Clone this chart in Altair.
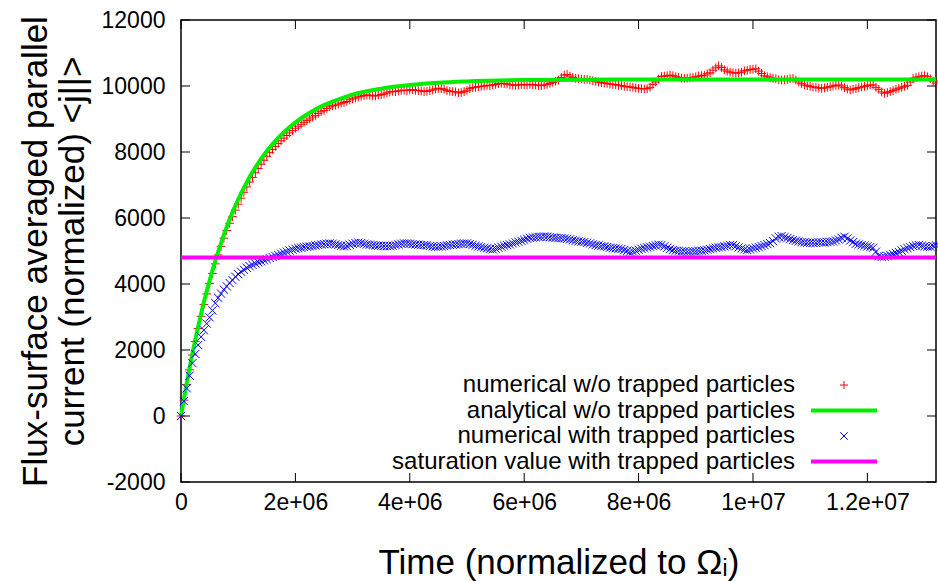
import altair as alt
import pandas as pd

# ---------------- data ----------------
series_names = [
    "numerical w/o trapped particles",
    "analytical w/o trapped particles",
    "numerical with trapped particles",
    "saturation value with trapped particles",
]
series_colors = ["#ff0000", "#00ee00", "#0000ff", "#ff00ff"]

# sample times in units of 1e6 (normalized to Omega_i): whole tenths ...
num_time_M = [
    0.0, 0.1, 0.2, 0.3, 0.4, 0.5, 0.6, 0.7, 0.8, 0.9,
    1.0, 1.1, 1.2, 1.3, 1.4, 1.5, 1.6, 1.7, 1.8, 1.9,
    2.0, 2.1, 2.2, 2.3, 2.4, 2.5, 2.6, 2.7, 2.8, 2.9,
    3.0, 3.1, 3.2, 3.3, 3.4, 3.5, 3.6, 3.7, 3.8, 3.9,
    4.0, 4.1, 4.2, 4.3, 4.4, 4.5, 4.6, 4.7, 4.8, 4.9,
    5.0, 5.1, 5.2, 5.3, 5.4, 5.5, 5.6, 5.7, 5.8, 5.9,
    6.0, 6.1, 6.2, 6.3, 6.4, 6.5, 6.6, 6.7, 6.8, 6.9,
    7.0, 7.1, 7.2, 7.3, 7.4, 7.5, 7.6, 7.7, 7.8, 7.9,
    8.0, 8.1, 8.2, 8.3, 8.4, 8.5, 8.6, 8.7, 8.8, 8.9,
    9.0, 9.1, 9.2, 9.3, 9.4, 9.5, 9.6, 9.7, 9.8, 9.9,
    10.0, 10.1, 10.2, 10.3, 10.4, 10.5, 10.6, 10.7, 10.8, 10.9,
    11.0, 11.1, 11.2, 11.3, 11.4, 11.5, 11.6, 11.7, 11.8, 11.9,
    12.0, 12.1, 12.2, 12.3, 12.4, 12.5, 12.6, 12.7, 12.8, 12.9,
    13.0, 13.1, 13.2,
]
# ... and the samples in between
num_time_half_M = [
    0.05, 0.15, 0.25, 0.35, 0.45, 0.55, 0.65, 0.75, 0.85, 0.95,
    1.05, 1.15, 1.25, 1.35, 1.45, 1.55, 1.65, 1.75, 1.85, 1.95,
    2.05, 2.15, 2.25, 2.35, 2.45, 2.55, 2.65, 2.75, 2.85, 2.95,
    3.05, 3.15, 3.25, 3.35, 3.45, 3.55, 3.65, 3.75, 3.85, 3.95,
    4.05, 4.15, 4.25, 4.35, 4.45, 4.55, 4.65, 4.75, 4.85, 4.95,
    5.05, 5.15, 5.25, 5.35, 5.45, 5.55, 5.65, 5.75, 5.85, 5.95,
    6.05, 6.15, 6.25, 6.35, 6.45, 6.55, 6.65, 6.75, 6.85, 6.95,
    7.05, 7.15, 7.25, 7.35, 7.45, 7.55, 7.65, 7.75, 7.85, 7.95,
    8.05, 8.15, 8.25, 8.35, 8.45, 8.55, 8.65, 8.75, 8.85, 8.95,
    9.05, 9.15, 9.25, 9.35, 9.45, 9.55, 9.65, 9.75, 9.85, 9.95,
    10.05, 10.15, 10.25, 10.35, 10.45, 10.55, 10.65, 10.75, 10.85, 10.95,
    11.05, 11.15, 11.25, 11.35, 11.45, 11.55, 11.65, 11.75, 11.85, 11.95,
    12.05, 12.15, 12.25, 12.35, 12.45, 12.55, 12.65, 12.75, 12.85, 12.95,
    13.05, 13.15,
]

numerical_no_trap = [
    0, 950, 1850, 2650, 3380, 4020, 4610, 5140, 5620, 6040,
    6420, 6780, 7090, 7370, 7630, 7870, 8080, 8260, 8420, 8580,
    8720, 8840, 8950, 9060, 9170, 9260, 9370, 9420, 9480, 9530,
    9610, 9670, 9710, 9720, 9700, 9740, 9790, 9840, 9850, 9870,
    9880, 9870, 9850, 9840, 9880, 9930, 9900, 9840, 9820, 9800,
    9870, 9950, 9980, 10000, 10010, 10050, 10080, 10060, 10030, 10030,
    10040, 10050, 10030, 10010, 10050, 10110, 10180, 10330, 10300, 10230,
    10210, 10200, 10160, 10120, 10090, 10060, 10040, 10010, 9980, 9960,
    9930, 9910, 9960, 10120, 10290, 10310, 10310, 10260, 10230, 10250,
    10280, 10310, 10370, 10480, 10610, 10490, 10420, 10390, 10420, 10480,
    10510, 10450, 10310, 10250, 10220, 10180, 10200, 10230, 10120, 10030,
    9990, 9960, 9930, 9960, 10000, 10030, 9950, 9880, 9920, 9970,
    10010, 10030, 9900, 9780, 9830, 9900, 9960, 10020, 10230, 10280,
    10310, 10220, 10090,
]
numerical_no_trap_half = [
    480, 1400, 2260, 3020, 3700, 4320, 4880, 5390, 5840, 6240,
    6600, 6940, 7230, 7500, 7750, 7980, 8170, 8340, 8500, 8650,
    8780, 8900, 9000, 9110, 9220, 9320, 9400, 9450, 9500, 9580,
    9640, 9690, 9730, 9700, 9720, 9760, 9820, 9830, 9870, 9860,
    9890, 9860, 9830, 9860, 9910, 9920, 9860, 9830, 9790, 9830,
    9920, 9960, 9990, 10020, 10030, 10070, 10070, 10040, 10020, 10050,
    10030, 10040, 10020, 10030, 10080, 10140, 10260, 10350, 10260, 10220,
    10200, 10180, 10140, 10100, 10080, 10050, 10020, 9990, 9970, 9940,
    9920, 9920, 10050, 10210, 10300, 10330, 10280, 10240, 10240, 10260,
    10300, 10330, 10400, 10550, 10560, 10450, 10400, 10400, 10460, 10500,
    10520, 10380, 10280, 10230, 10190, 10190, 10220, 10180, 10070, 10010,
    9970, 9940, 9940, 9980, 10020, 10000, 9910, 9900, 9950, 9990,
    10030, 9960, 9820, 9800, 9860, 9930, 9990, 10120, 10260, 10300,
    10280, 10150,
]

numerical_trap = [
    0, 840, 1600, 2150, 2600, 2990, 3420, 3710, 3930, 4120,
    4300, 4430, 4540, 4620, 4690, 4750, 4820, 4880, 4950, 5010,
    5070, 5100, 5130, 5150, 5180, 5210, 5230, 5200, 5160, 5150,
    5220, 5250, 5220, 5190, 5170, 5160, 5150, 5160, 5200, 5230,
    5220, 5200, 5180, 5170, 5140, 5130, 5150, 5180, 5200, 5220,
    5230, 5190, 5140, 5100, 5060, 5070, 5130, 5180, 5230, 5280,
    5340, 5400, 5420, 5430, 5430, 5410, 5390, 5380, 5350, 5310,
    5280, 5250, 5200, 5170, 5140, 5100, 5080, 5060, 5000, 4990,
    5040, 5090, 5130, 5170, 5180, 5100, 5030, 5000, 4990, 4980,
    4990, 5010, 5040, 5080, 5110, 5140, 5180, 5150, 5080, 5030,
    5080, 5120, 5180, 5240, 5380, 5450, 5390, 5330, 5290, 5260,
    5250, 5250, 5260, 5270, 5290, 5350, 5430, 5320, 5220, 5180,
    5140, 5100, 4850, 4830, 4880, 4940, 5010, 5090, 5150, 5180,
    5140, 5130, 5170,
]
numerical_trap_half = [
    450, 1220, 1880, 2400, 2800, 3200, 3580, 3830, 4030, 4220,
    4370, 4490, 4580, 4660, 4720, 4790, 4850, 4920, 4980, 5040,
    5090, 5120, 5140, 5170, 5200, 5220, 5220, 5180, 5140, 5190,
    5240, 5240, 5200, 5180, 5160, 5150, 5150, 5180, 5220, 5230,
    5210, 5190, 5180, 5150, 5130, 5140, 5170, 5190, 5210, 5230,
    5210, 5160, 5120, 5080, 5050, 5100, 5160, 5200, 5260, 5310,
    5370, 5410, 5430, 5440, 5420, 5400, 5390, 5370, 5330, 5290,
    5270, 5230, 5180, 5150, 5120, 5090, 5070, 5030, 4980, 5010,
    5070, 5110, 5150, 5190, 5140, 5060, 5010, 4990, 4980, 4990,
    5000, 5020, 5060, 5100, 5120, 5160, 5180, 5110, 5050, 5050,
    5100, 5150, 5210, 5300, 5430, 5420, 5360, 5310, 5270, 5250,
    5250, 5260, 5260, 5280, 5320, 5400, 5380, 5270, 5200, 5160,
    5120, 4980, 4820, 4850, 4910, 4970, 5050, 5120, 5170, 5160,
    5130, 5150,
]

analytic_time_M = [
    0.0, 0.1, 0.2, 0.3, 0.4, 0.5, 0.6, 0.7, 0.8, 0.9, 1.0, 1.2, 1.4, 1.6,
    1.8, 2.0, 2.25, 2.5, 2.75, 3.0, 3.5, 4.0, 4.5, 5.0, 6.0, 7.0, 8.0, 10.0, 13.2,
]
analytic_value = [
    0, 1000, 1900, 2710, 3450, 4100, 4700, 5240, 5730, 6170, 6560, 7240, 7790, 8240,
    8600, 8900, 9190, 9420, 9590, 9740, 9920, 10030, 10100, 10140, 10180, 10190, 10200, 10200, 10200,
]

saturation_time_M = [0.0, 13.2]
saturation_value = [4800, 4800]

y_ticks = [-2000, 0, 2000, 4000, 6000, 8000, 10000, 12000]
x_ticks = [0, 2e6, 4e6, 6e6, 8e6, 1e7, 1.2e7]
x_tick_labels = ["0", "2e+06", "4e+06", "6e+06", "8e+06", "1e+07", "1.2e+07"]

# ---------------- tables ----------------
rows = []
for t, v in zip(num_time_M + num_time_half_M, numerical_no_trap + numerical_no_trap_half):
    rows.append({"t": t * 1e6, "v": v, "series": series_names[0]})
for t, v in zip(analytic_time_M, analytic_value):
    rows.append({"t": t * 1e6, "v": v, "series": series_names[1]})
for t, v in zip(num_time_M + num_time_half_M, numerical_trap + numerical_trap_half):
    rows.append({"t": t * 1e6, "v": v, "series": series_names[2]})
for t, v in zip(saturation_time_M, saturation_value):
    rows.append({"t": t * 1e6, "v": v, "series": series_names[3]})
df = pd.DataFrame(rows)

yt_df = pd.DataFrame({"v": y_ticks})
xt_df = pd.DataFrame({"t": x_ticks})

FONT = "Liberation Sans"
W, H = 755, 462

PLUS = "M-0.8,0L0.8,0M0,-0.8L0,0.8"
CROSS = "M-0.75,-0.75L0.75,0.75M-0.75,0.75L0.75,-0.75"
LINE = "M-6.6,0L6.6,0"

xscale = alt.Scale(domain=[0, 1.32e7], nice=False, zero=False)
yscale = alt.Scale(domain=[-2000, 12000], nice=False, zero=False)
cscale = alt.Scale(domain=series_names, range=series_colors)
sscale = alt.Scale(domain=series_names, range=[PLUS, LINE, CROSS, LINE])
wscale = alt.Scale(type="ordinal", domain=series_names, range=[1, 4, 1, 4])

label_map = "{" + ",".join(f"'{int(v)}':'{l}'" for v, l in zip(x_ticks, x_tick_labels)) + "}"

x_axis = alt.Axis(
    values=x_ticks, labelExpr=f"{label_map}[format(datum.value, 'd')]",
    title="Time (normalized to Ωᵢ)", titleFontSize=35, titleFont=FONT,
    titleFontWeight="normal", titleColor="black", titleBaseline="alphabetic",
    titleY=91, titleX=W / 2,
    labelFontSize=23, labelFont=FONT, labelColor="black", labelPadding=9,
    ticks=False, tickSize=0, domain=False, grid=False, labelFlush=False,
)
y_axis = alt.Axis(
    values=y_ticks, labelExpr="'' + datum.value",
    title=["Flux-surface averaged parallel", "current (normalized) <j||>"],
    titleFontSize=35, titleFont=FONT, titleFontWeight="normal", titleColor="black",
    titleLineHeight=37, titleAngle=-90, titleAlign="center", titleBaseline="middle",
    titleX=-146, titleY=H / 2,
    labelFontSize=23, labelFont=FONT, labelColor="black", labelPadding=16,
    ticks=False, tickSize=0, domain=False, grid=False, labelFlush=False,
)

legend = alt.Legend(title=None)


def xenc(field="t"):
    return alt.X(f"{field}:Q", scale=xscale, axis=x_axis)


def yenc(field="v"):
    return alt.Y(f"{field}:Q", scale=yscale, axis=y_axis)


def series_layer(name, kind):
    base = alt.Chart(df).transform_filter(alt.datum.series == name)
    if kind == "point":
        return base.mark_point(filled=False, size=120, opacity=1).encode(
            x=xenc(), y=yenc(),
            color=alt.Color("series:N", scale=cscale, legend=legend),
            shape=alt.Shape("series:N", scale=sscale, legend=legend),
            strokeWidth=alt.StrokeWidth("series:N", scale=wscale, legend=legend),
        )
    return base.mark_line(interpolate="monotone", opacity=1).encode(
        x=xenc(), y=yenc(),
        color=alt.Color("series:N", scale=cscale, legend=legend),
        strokeWidth=alt.StrokeWidth("series:N", scale=wscale, legend=legend),
    )


red = series_layer(series_names[0], "point")
green = series_layer(series_names[1], "line")
blue = series_layer(series_names[2], "point")
magenta = series_layer(series_names[3], "line")

tick_len = 9
left_ticks = alt.Chart(yt_df).mark_rule(color="black", strokeWidth=1).encode(
    y=yenc(), x=alt.value(0), x2=alt.value(tick_len))
right_ticks = alt.Chart(yt_df).mark_rule(color="black", strokeWidth=1).encode(
    y=yenc(), x=alt.value(W - tick_len), x2=alt.value(W))
bottom_ticks = alt.Chart(xt_df).mark_rule(color="black", strokeWidth=1).encode(
    x=xenc(), y=alt.value(H - tick_len), y2=alt.value(H))
top_ticks = alt.Chart(xt_df).mark_rule(color="black", strokeWidth=1).encode(
    x=xenc(), y=alt.value(0), y2=alt.value(tick_len))

chart = alt.layer(
    red, green, blue, magenta, left_ticks, right_ticks, bottom_ticks, top_ticks
).properties(
    width=W, height=H,
    autosize=alt.AutoSizeParams(type="none"),
    padding={"left": 181, "top": 20, "right": 2, "bottom": 99},
    background="white",
).configure_view(
    stroke="black", strokeWidth=1.5,
).configure_legend(
    orient="none", legendX=651, legendY=353,
    labelAlign="right", labelOffset=alt.ExprRef("-61"), labelFontSize=24, labelFont=FONT,
    labelColor="black", labelLimit=700, symbolSize=100, rowPadding=1.5,
    padding=0, symbolOpacity=1,
)

chart.save("out.html", embed_options={"renderer": "svg", "actions": False})
